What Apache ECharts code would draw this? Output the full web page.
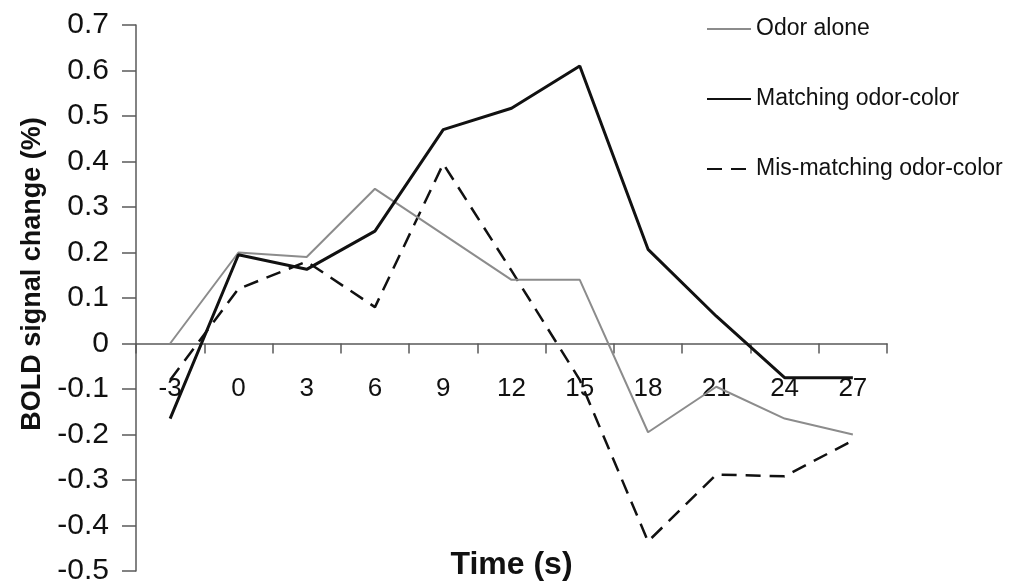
<!DOCTYPE html>
<html>
<head>
<meta charset="utf-8">
<script src="https://cdn.jsdelivr.net/npm/echarts@6/dist/echarts.min.js"></script>
<style>
  html, body { margin: 0; padding: 0; background: #fff; }
  #chart { width: 1012px; height: 583px; }
</style>
</head>
<body>
<div id="chart"></div>
<script>
// time points (s)
const timePoints = ['-3', '0', '3', '6', '9', '12', '15', '18', '21', '24', '27']

// BOLD signal change (%)
const odorAlone = [0.0, 0.2, 0.19, 0.34, 0.24, 0.14, 0.14, -0.195, -0.095, -0.165, -0.2]
const matching = [-0.165, 0.195, 0.163, 0.247, 0.47, 0.517, 0.61, 0.207, 0.06, -0.075, -0.075]
const mismatching = [-0.08, 0.12, 0.18, 0.08, 0.395, 0.16, -0.08, -0.435, -0.288, -0.292, -0.213]

const seriesNames = ['Odor alone', 'Matching odor-color', 'Mis-matching odor-color']

const FONT = '"Liberation Sans", Arial, sans-serif'
const AXIS_COLOR = '#5a5a5a'

const chart = echarts.init(document.getElementById('chart'))

chart.setOption({
  animation: false,
  backgroundColor: '#fff',
  textStyle: { fontFamily: FONT, color: '#111' },
  grid: { left: 136, right: 125, top: 25, bottom: 12, containLabel: false, outerBoundsMode: 'none' },
  legend: {
    orient: 'vertical',
    left: 706,
    top: 17,
    padding: 0,
    itemWidth: 44,
    itemHeight: 14,
    itemGap: 46,
    itemStyle: { opacity: 0 },
    textStyle: { fontSize: 23, lineHeight: 24, color: '#111', fontFamily: FONT },
    data: seriesNames,
  },
  xAxis: {
    type: 'category',
    data: timePoints,
    boundaryGap: true,
    name: 'Time (s)',
    nameLocation: 'middle',
    nameGap: -22,
    nameMoveOverlap: false,
    nameTextStyle: { fontSize: 32, fontWeight: 'bold', color: '#111', fontFamily: FONT },
    axisLine: { onZero: true, lineStyle: { color: AXIS_COLOR, width: 1.5 } },
    axisTick: { show: true, interval: 0, length: 10, lineStyle: { color: AXIS_COLOR, width: 1.5 } },
    // labels sit under the zero line, not at the grid bottom
    axisLabel: { interval: 0, margin: -195, fontSize: 26, color: '#111', fontFamily: FONT },
    splitLine: { show: false },
  },
  yAxis: {
    type: 'value',
    min: -0.5,
    max: 0.7,
    interval: 0.1,
    name: 'BOLD signal change (%)',
    nameLocation: 'middle',
    nameGap: 83,
    nameTextStyle: {
      fontSize: 27,
      fontWeight: 'bold',
      color: '#111',
      fontFamily: FONT,
      padding: [0, 0, 0, 48],
    },
    axisLine: { show: true, lineStyle: { color: AXIS_COLOR, width: 1.5 } },
    axisTick: { show: true, length: 14, lineStyle: { color: AXIS_COLOR, width: 1.5 } },
    axisLabel: {
      margin: 27,
      fontSize: 30,
      color: '#111',
      fontFamily: FONT,
      formatter: (v) => {
        const r = Math.round(v * 10) / 10
        return r === 0 ? '0' : r.toFixed(1)
      },
    },
    splitLine: { show: false },
  },
  series: [
    {
      name: seriesNames[0],
      type: 'line',
      data: odorAlone,
      symbol: 'none',
      lineStyle: { color: '#8c8c8c', width: 2 },
      itemStyle: { color: '#8c8c8c' },
      z: 3,
    },
    {
      name: seriesNames[1],
      type: 'line',
      data: matching,
      symbol: 'none',
      lineStyle: { color: '#111', width: 3 },
      itemStyle: { color: '#111' },
      z: 4,
    },
    {
      name: seriesNames[2],
      type: 'line',
      data: mismatching,
      symbol: 'none',
      lineStyle: { color: '#111', width: 2.5, type: [15, 9] },
      itemStyle: { color: '#111' },
      z: 2,
    },
  ],
})
</script>
</body>
</html>
